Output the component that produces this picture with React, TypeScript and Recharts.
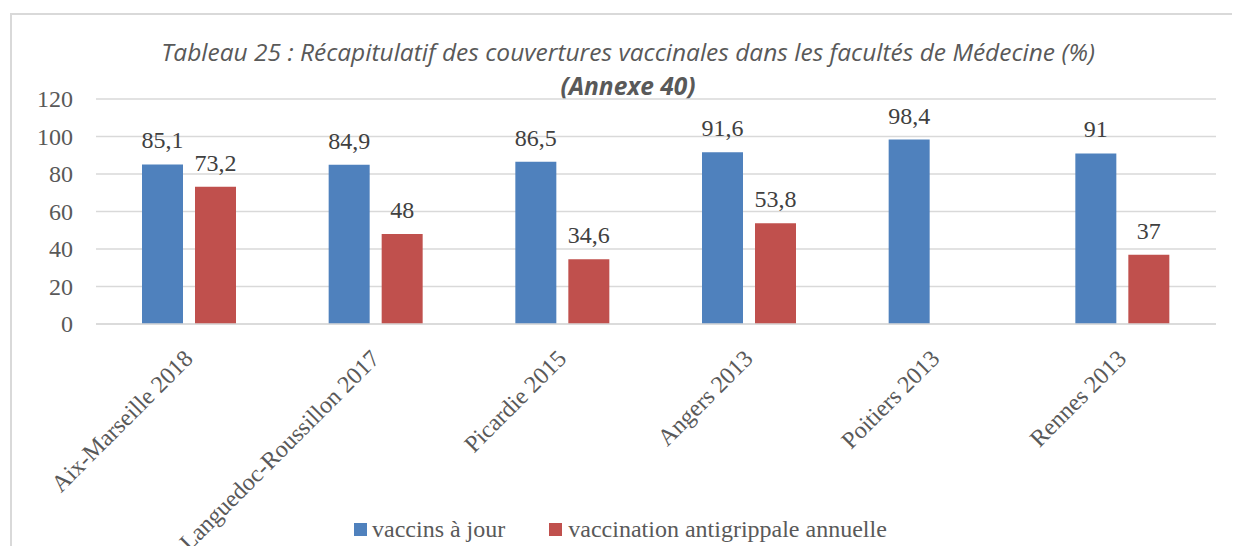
import { Bar, BarChart, CartesianGrid, LabelList, XAxis, YAxis } from "recharts"

const categories = [
  "Aix-Marseille 2018",
  "Languedoc-Roussillon 2017",
  "Picardie 2015",
  "Angers 2013",
  "Poitiers 2013",
  "Rennes 2013",
]
const vaccinsAJour = [85.1, 84.9, 86.5, 91.6, 98.4, 91]
const antigrippale: (number | null)[] = [73.2, 48, 34.6, 53.8, null, 37]
const yTicks = [0, 20, 40, 60, 80, 100, 120]

const BLUE = "#4F81BD"
const RED = "#C0504D"
const SERIF = "'Liberation Serif', serif"

const data = categories.map((name, i) => ({
  name,
  a: vaccinsAJour[i],
  b: antigrippale[i],
}))

const fmt = (v: any) => (v === null || v === undefined ? "" : String(v).replace(".", ","))

const serifText = { fontFamily: SERIF, fontSize: 24 }

function XTick(props: any) {
  const { x, y, payload } = props
  return (
    <g transform={`translate(${x + 5},${y + 28})`}>
      <text x={0} y={0} textAnchor="end" transform="rotate(-45)" fill="#595959" style={serifText}>
        {payload.value}
      </text>
    </g>
  )
}

function YTick(props: any) {
  const { x, y, payload } = props
  return (
    <text x={x} y={y} dy={8} textAnchor="end" fill="#595959" style={serifText}>
      {payload.value}
    </text>
  )
}

function TopLabel(props: any) {
  const { x, y, width, value } = props
  if (value === null || value === undefined) return null
  return (
    <text x={x + width / 2} y={y - 16} textAnchor="middle" fill="#404040" style={serifText}>
      {fmt(value)}
    </text>
  )
}

export default function App() {
  return (
    <div style={{ position: "relative", margin: -8, width: 1240, height: 554, overflow: "hidden", background: "#fff" }}>
      <div
        style={{
          position: "absolute",
          left: 10,
          top: 13,
          width: 1260,
          height: 600,
          border: "2px solid #d9d9d9",
          boxSizing: "border-box",
        }}
      />
      <div
        style={{
          position: "absolute",
          left: 0,
          width: 1256,
          top: 35,
          textAlign: "center",
          fontFamily: "'Open Sans', sans-serif",
          fontStyle: "italic",
          fontSize: 24.5,
          color: "#595959",
          lineHeight: "34px",
        }}
      >
        <div>Tableau 25 : Récapitulatif des couvertures vaccinales dans les facultés de Médecine (%)</div>
        <div style={{ fontWeight: 700 }}>(Annexe 40)</div>
      </div>
      <div style={{ position: "absolute", left: 0, top: 0 }}>
        <BarChart
          width={1240}
          height={554}
          data={data}
          margin={{ top: 99, right: 24, left: 0, bottom: 0 }}
          barSize={41}
          barGap={12}
        >
          <CartesianGrid vertical={false} stroke="#d9d9d9" strokeWidth={1.5} />
          <XAxis
            dataKey="name"
            height={230}
            interval={0}
            tickLine={false}
            axisLine={{ stroke: "#d9d9d9", strokeWidth: 1.5 }}
            tick={<XTick />}
          />
          <YAxis
            width={96}
            domain={[0, 120]}
            ticks={yTicks}
            interval={0}
            tickLine={false}
            axisLine={false}
            tickMargin={17}
            tick={<YTick />}
          />
          <Bar dataKey="a" fill={BLUE} isAnimationActive={false}>
            <LabelList dataKey="a" content={<TopLabel />} />
          </Bar>
          <Bar dataKey="b" fill={RED} isAnimationActive={false}>
            <LabelList dataKey="b" content={<TopLabel />} />
          </Bar>
        </BarChart>
      </div>
      <div
        style={{
          position: "absolute",
          top: 515,
          left: 354,
          display: "flex",
          alignItems: "center",
          fontFamily: SERIF,
          fontSize: 24,
          lineHeight: "28px",
          color: "#595959",
        }}
      >
        <span style={{ width: 13, height: 13, background: BLUE, display: "inline-block", marginRight: 5 }} />
        <span style={{ marginRight: 44 }}>vaccins à jour</span>
        <span style={{ width: 13, height: 13, background: RED, display: "inline-block", marginRight: 6 }} />
        <span>vaccination antigrippale annuelle</span>
      </div>
    </div>
  )
}
